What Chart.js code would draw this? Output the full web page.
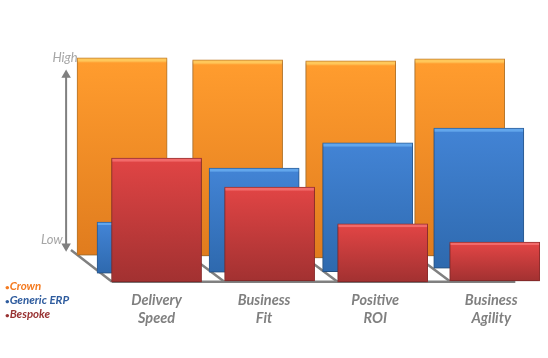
<!DOCTYPE html>
<html>
  <head>
    <script src="https://cdnjs.cloudflare.com/ajax/libs/Chart.js/4.4.0/chart.umd.min.js"></script>
    <style type="text/css">
      html, body { margin: 0; padding: 0; background: #FFFFFF; }
      .wrap { position: relative; width: 548px; height: 358px; overflow: hidden; }
      .key { position: absolute; left: 5px; top: 279px; font: italic bold 11.5px Lato, sans-serif; line-height: 14px; }
      .key span { font-size: 8px; line-height: 0; }
    </style>
  </head>

  <body>
    <div class="wrap">
      <canvas id="canvas" width="548" height="358"></canvas>
      <div class="key" id="key"></div>
    </div>

    <script type="text/javascript">
      // one x unit = one category step, y runs 0 (Low) to 100 (High)
      var categories = [["Delivery", "Speed"], ["Business", "Fit"], ["Positive", "ROI"], ["Business", "Agility"]];
      var categoryTicks = [0, 0.951, 1.934, 2.96];
      var levelNames = ["Low", "High"];
      var levelTicks = [8, 100];
      var seriesNames = ["Crown", "Generic ERP", "Bespoke"];
      var keyColors = ["#F47A1F", "#2F5C9E", "#983232"];

      var crownX = [-0.305, 0.717, 1.717, 2.681];
      var crownBase = [0.5, 0, -1, 0];
      var crownTop = [100, 99, 98.5, 99.5];

      var erpX = [-0.128, 0.863, 1.867, 2.85];
      var erpBase = [-8.6, -8.1, -7.9, -6.1];
      var erpTop = [17.2, 44.4, 57.1, 64.6];

      var bespokeX = [0, 1, 2, 2.991];
      var bespokeBase = [-13, -12.6, -13, -12.6];
      var bespokeTop = [49.5, 34.8, 16.2, 7.1];

      var diagonalStartX = [-0.757, 0.225, 1.225, 2.225];
      var diagonalEndX = [-0.394, 0.6, 1.6, 2.6];
      var floorEndX = 3.173;
      var arrowX = -0.8;
      var arrowY = [91.4, 5];

      var shades = [
        { cap: "#FFC75A", top: "#FF9C2E", bottom: "#E07C1E", edge: "#C98330" },
        { cap: "#62A6EC", top: "#4283D4", bottom: "#2E69AE", edge: "#2F639F" },
        { cap: "#F26A6A", top: "#DF4444", bottom: "#A23131", edge: "#9A3030" }
      ];

      document.getElementById("key").innerHTML = seriesNames.map(function(name, i) {
        return '<div style="color:' + keyColors[i] + '"><span>\u2022</span>' + name + "</div>";
      }).join("");

      var barFill = function(shade, bases, tops) {
        return function(c) {
          var scale = c.chart.scales.y;
          if (c.dataIndex === undefined || !scale) {
            return shade.top;
          }
          var y0 = scale.getPixelForValue(tops[c.dataIndex]);
          var y1 = scale.getPixelForValue(bases[c.dataIndex]);
          if (!isFinite(y0) || !isFinite(y1)) {
            return shade.top;
          }
          var cap = Math.min(3 / (y1 - y0), 0.2);
          var g = c.chart.ctx.createLinearGradient(0, y0, 0, y1);
          g.addColorStop(0, shade.cap);
          g.addColorStop(cap, shade.cap);
          g.addColorStop(cap + 0.01, shade.top);
          g.addColorStop(1, shade.bottom);
          return g;
        };
      };

      var barSet = function(i, xs, bases, tops) {
        return {
          type: "bar",
          label: seriesNames[i],
          order: 3 - i,
          clip: false,
          data: xs.map(function(x, k) { return { x: x, y: [bases[k], tops[k]] }; }),
          backgroundColor: barFill(shades[i], bases, tops),
          borderColor: shades[i].edge,
          borderWidth: 1,
          borderSkipped: false,
          barThickness: 90,
          grouped: false
        };
      };

      var guideSet = function(points) {
        return {
          type: "line",
          order: 4,
          clip: false,
          data: points,
          borderColor: "#808080",
          borderWidth: 2.5,
          pointRadius: 0,
          tension: 0
        };
      };

      var datasets = [
        barSet(2, bespokeX, bespokeBase, bespokeTop),
        barSet(1, erpX, erpBase, erpTop),
        barSet(0, crownX, crownBase, crownTop)
      ];

      diagonalStartX.forEach(function(x, i) {
        datasets.push(guideSet([{ x: x, y: 3 }, { x: diagonalEndX[i], y: -13 }]));
      });
      datasets.push(guideSet([{ x: diagonalEndX[0], y: -13 }, { x: floorEndX, y: -13 }]));

      var arrow = guideSet(arrowY.map(function(y) { return { x: arrowX, y: y }; }));
      arrow.borderWidth = 2;
      arrow.pointRadius = 3.5;
      arrow.pointStyle = "triangle";
      arrow.pointRotation = [0, 180];
      arrow.pointBackgroundColor = "#808080";
      arrow.pointBorderColor = "#808080";
      datasets.push(arrow);

      var barShadow = {
        id: "barShadow",
        beforeDatasetDraw: function(chart, args) {
          chart.ctx.save();
          if (args.meta.type === "bar") {
            chart.ctx.shadowColor = "rgba(0,0,0,0.3)";
            chart.ctx.shadowBlur = 2;
            chart.ctx.shadowOffsetY = 1;
          }
        },
        afterDatasetDraw: function(chart) {
          chart.ctx.restore();
        }
      };

      new Chart(document.getElementById("canvas").getContext("2d"), {
        data: { datasets: datasets },
        plugins: [barShadow],
        options: {
          responsive: false,
          animation: false,
          events: [],
          layout: { padding: 0 },
          plugins: { legend: { display: false }, tooltip: { enabled: false } },
          scales: {
            x: {
              type: "linear",
              offset: false,
              min: -0.801,
              max: 3.409,
              grid: { display: false },
              border: { display: false },
              afterBuildTicks: function(scale) {
                scale.ticks = categoryTicks.map(function(v) { return { value: v }; });
              },
              afterFit: function(scale) { scale.height = 76; },
              ticks: {
                autoSkip: false,
                maxRotation: 0,
                padding: 1,
                color: "#808080",
                font: { family: "Lato, sans-serif", size: 14.5, weight: "bold", style: "italic", lineHeight: 1.24 },
                callback: function(v, i) { return categories[i]; }
              }
            },
            y: {
              type: "linear",
              min: -13.1,
              max: 126.2,
              grid: { display: false },
              border: { display: false },
              afterBuildTicks: function(scale) {
                scale.ticks = levelTicks.map(function(v) { return { value: v }; });
              },
              afterFit: function(scale) { scale.width = 66; },
              ticks: {
                autoSkip: false,
                mirror: true,
                crossAlign: "far",
                padding: -25,
                color: "#A6A6A6",
                font: { family: "Lato, sans-serif", size: 13, style: "italic" },
                callback: function(v, i) { return i === 0 ? levelNames[i] + "\u00A0\u00A0\u00A0\u00A0\u00A0" : levelNames[i]; }
              }
            }
          }
        }
      });
    </script>
  </body>
</html>
